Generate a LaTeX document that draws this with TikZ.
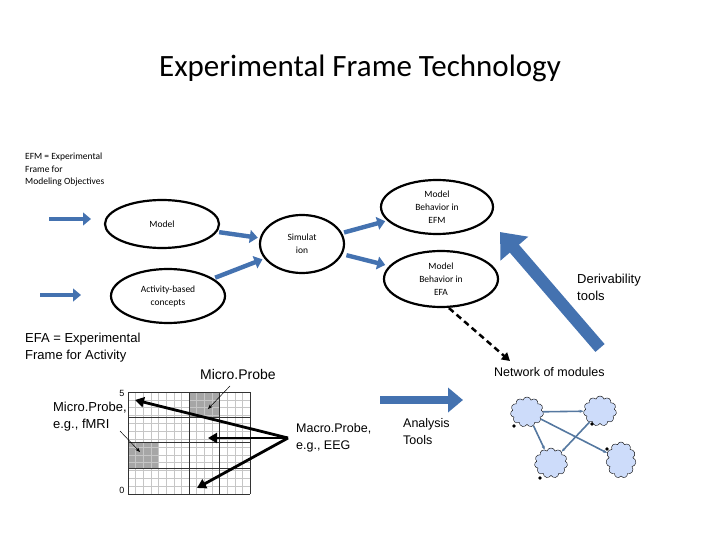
\documentclass[tikz,border=0pt]{standalone}
\usepackage{fontspec}
\setmainfont{Liberation Sans}
\newfontfamily\calfont{Carlito}
\usetikzlibrary{shapes.geometric,shapes.symbols,shapes.arrows,arrows.meta}
\definecolor{ablue}{RGB}{68,114,176}
\definecolor{cl}{RGB}{205,220,250}
\definecolor{ln}{RGB}{85,120,160}
\begin{document}
\begin{tikzpicture}[x=1pt,y=-1pt,
 ell/.style={ellipse,draw,line width=2.2pt,font=\calfont\fontsize{9.5}{13}\selectfont,align=center,inner sep=0pt},
 tx/.style={align=left,anchor=north west,inner sep=0pt},
 cld/.style={cloud,cloud puffs=11,draw,fill=cl,minimum width=33pt,minimum height=30pt,inner sep=0pt,aspect=1.1}]
\useasboundingbox (0,0) rectangle (720,540);
\node (title) at (360,68) {\calfont\fontsize{31}{36}\selectfont Experimental Frame Technology};
\node[tx,font=\calfont\fontsize{9.5}{12.3}\selectfont] (efm) at (25,153) {EFM = Experimental\\Frame for\\Modeling Objectives};
\node[tx,font=\fontsize{13}{17}\selectfont] (efa) at (25,333) {EFA = Experimental\\Frame for Activity};
\node[ell,minimum width=114pt,minimum height=48pt] (model) at (162,224) {Model};
\node[ell,minimum width=114pt,minimum height=54pt] (act) at (168,296) {Activity-based\\concepts};
\node[ell,minimum width=84pt,minimum height=58pt] (sim) at (302,244) {Simulat\\ion};
\node[ell,minimum width=112pt,minimum height=54pt] (befm) at (437,207) {Model\\Behavior in\\EFM};
\node[ell,minimum width=114pt,minimum height=56pt] (befa) at (441,279) {Model\\Behavior in\\EFA};
\tikzset{ba/.style={-{Triangle[length=#1,width=#1*1.6]},line width=#1*0.55,draw=ablue}}
\coordinate (a1s) at (49,219); \coordinate (a1e) at (91,219);
\draw[ba=8pt] (a1s) -- (a1e);
\coordinate (a2s) at (40,295); \coordinate (a2e) at (81,295);
\draw[ba=8pt] (a2s) -- (a2e);
\draw[ba=8pt,shorten <=2pt,shorten >=2pt] (model) -- (sim);
\draw[ba=8pt,shorten <=2pt,shorten >=2pt] (act) -- (sim);
\draw[ba=8pt,shorten <=2pt,shorten >=2pt] (sim) -- (befm);
\draw[ba=8pt,shorten <=4pt,shorten >=4pt] (sim) -- (befa);
\coordinate (dv1) at (600,348); \coordinate (dv2) at (500,232);
\draw[ba=22pt] (dv1) -- (dv2);
\coordinate (an1) at (380,400); \coordinate (an2) at (463,400);
\draw[ba=15pt] (an1) -- (an2);
\node[tx,font=\fontsize{13}{17}\selectfont] (der) at (577,274) {Derivability\\tools};
\node[tx,font=\fontsize{12.5}{17}\selectfont] (an) at (403,418) {Analysis\\Tools};
\node[anchor=west,inner sep=0pt,font=\fontsize{12.5}{15}\selectfont] (net) at (494,372) {Network of modules};
\coordinate (dstart) at ([xshift=8pt]befa.south);
\coordinate (dend) at (510,361);
\draw[line width=2.5pt,dash pattern=on 6pt off 4pt,-{Triangle[length=8pt,width=9pt]}] (dstart) -- (dend);
\node[cld] (c1) at (527,412) {};
\node[cld] (c2) at (600,411) {};
\node[cld] (c3) at (551,463) {};
\node[cld,minimum width=30pt,minimum height=36pt] (c4) at (621,460) {};
\tikzset{ed/.style={draw=ln,line width=1.6pt,-{Stealth[length=4pt]}}}
\draw[ed] (c1) -- (c2);
\draw[ed] (c1) -- (c3);
\draw[ed] (c1) -- (c4);
\draw[ed] (c2) -- (c3);
\foreach \p in {(514,426),(592,424),(540,478),(607,449)} \fill \p circle (1.8);
\fill[gray!70] (189,392) rectangle (219,417);
\fill[gray!70] (128,442) rectangle (158,468);
\foreach \i in {0,...,16} \draw[gray!45,line width=0.5pt] (128+\i*7.625,392) -- (128+\i*7.625,494);
\foreach \i in {0,...,13} \draw[gray!45,line width=0.5pt] (128,392+\i*7.85) -- (250,392+\i*7.85);
\foreach \x in {128,189,219,250} \draw[black!80,line width=0.8pt] (\x,392) -- (\x,494);
\foreach \y in {392,417,442,468,494} \draw[black!80,line width=0.8pt] (128,\y) -- (250,\y);
\node[font=\fontsize{9}{10}\selectfont] (l5) at (122,393) {5};
\node[font=\fontsize{9}{10}\selectfont] (l0) at (122,490) {0};
\node[anchor=west,inner sep=0pt,font=\fontsize{14}{17}\selectfont] (mp) at (200,374) {Micro.Probe};
\node[anchor=north east,inner sep=0pt,align=left,font=\fontsize{13}{17}\selectfont] (mpf) at (127,402) {Micro.Probe,\\e.g., fMRI};
\node[tx,font=\fontsize{12.5}{17}\selectfont] (mac) at (296,423) {Macro.Probe,\\e.g., EEG};
\coordinate (mo) at (288,438);
\coordinate (t1) at (135,400); \coordinate (t2) at (208,438); \coordinate (t3) at (197,488);
\tikzset{pa/.style={line width=2.8pt,-{Triangle[length=9pt,width=10pt]}}}
\draw[pa] (mo) -- (t1);
\draw[pa] (mo) -- (t2);
\draw[pa] (mo) -- (t3);
\coordinate (s1) at (120,431); \coordinate (e1) at (140,452);
\coordinate (s2) at (230,386); \coordinate (e2) at (208,409);
\draw[-{Stealth[length=5pt]},line width=0.5pt] (s1) -- (e1);
\draw[-{Stealth[length=5pt]},line width=0.5pt] (s2) -- (e2);
\end{tikzpicture}
\end{document}
